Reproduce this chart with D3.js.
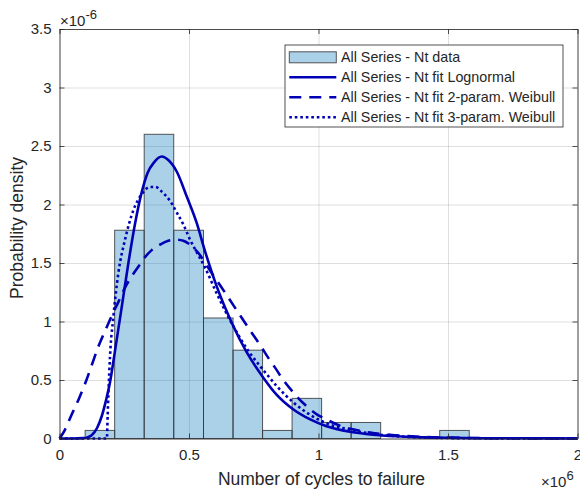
<!doctype html>
<html lang="en">
<head>
  <meta charset="utf-8">
  <title>Nt distribution fits</title>
  <script src="https://cdn.jsdelivr.net/npm/d3@7"></script>
  <style>
    body { margin: 0; background: #fff; }
    svg text { font-family: "Liberation Sans", Arial, Helvetica, sans-serif; fill: #262626; }
    .grid line { stroke: #262626; stroke-opacity: 0.15; }
    .grid path { display: none; }
    .axis path, .axis line { stroke: #262626; stroke-width: 0.8; }
  </style>
</head>
<body>
<svg id="chart"></svg>
<script>
// x values in 1e6 cycles, densities in 1e-6
var histEdges = [0.099, 0.213, 0.327, 0.441, 0.556, 0.670, 0.784, 0.898, 1.012, 1.126, 1.240, 1.354, 1.468, 1.582];
var histDensity = [0.069, 1.78, 2.60, 1.78, 1.03, 0.755, 0.069, 0.343, 0.137, 0.137, 0, 0, 0.069];

var lognormalFit = [[0,0],[0.05,0],[0.09,0.003],[0.11,0.012],[0.125,0.03],[0.145,0.09],[0.163,0.19],[0.18,0.33],
  [0.195,0.48],[0.215,0.76],[0.24,1.12],[0.266,1.50],[0.292,1.84],[0.318,2.11],[0.34,2.27],[0.365,2.36],
  [0.395,2.41],[0.42,2.38],[0.453,2.28],[0.491,2.07],[0.53,1.84],[0.562,1.60],[0.607,1.30],[0.665,0.99],
  [0.722,0.74],[0.787,0.52],[0.838,0.375],[0.902,0.25],[0.966,0.165],[1.031,0.105],[1.121,0.058],
  [1.224,0.03],[1.35,0.014],[1.5,0.006],[1.7,0.002],[2.0,0.0005]];

var weibull2Fit = [[0,0],[0.02,0.07],[0.048,0.21],[0.075,0.34],[0.099,0.47],[0.125,0.63],[0.15,0.785],
  [0.176,0.92],[0.202,1.05],[0.228,1.17],[0.253,1.29],[0.28,1.39],[0.305,1.47],[0.33,1.55],[0.356,1.61],
  [0.39,1.66],[0.42,1.69],[0.45,1.70],[0.478,1.69],[0.517,1.63],[0.545,1.56],[0.568,1.48],[0.595,1.39],
  [0.62,1.31],[0.671,1.14],[0.722,0.97],[0.774,0.80],[0.812,0.67],[0.831,0.61],[0.864,0.50],[0.889,0.43],
  [0.92,0.35],[0.947,0.29],[0.998,0.20],[1.024,0.17],[1.082,0.11],[1.15,0.07],[1.2,0.05],[1.3,0.027],
  [1.4,0.014],[1.6,0.004],[1.8,0.001],[2.0,0.0002]];

var weibull3Fit = [[0,0],[0.183,0],[0.186,0.2],[0.189,0.39],[0.195,0.70],[0.208,1.04],[0.227,1.41],
  [0.253,1.70],[0.285,1.95],[0.318,2.09],[0.35,2.15],[0.37,2.15],[0.395,2.11],[0.433,2.01],[0.453,1.93],
  [0.478,1.83],[0.504,1.70],[0.533,1.58],[0.562,1.46],[0.607,1.24],[0.671,0.96],[0.735,0.73],[0.774,0.62],
  [0.80,0.55],[0.838,0.45],[0.902,0.31],[0.966,0.205],[1.031,0.13],[1.121,0.075],[1.198,0.044],
  [1.288,0.022],[1.4,0.009],[1.5,0.004],[1.7,0.001],[2.0,0.0001]];

var xTicks = [0, 0.5, 1, 1.5, 2];
var xTickLabels = ["0", "0.5", "1", "1.5", "2"];
var yTicks = [0, 0.5, 1, 1.5, 2, 2.5, 3, 3.5];
var yTickLabels = ["0", "0.5", "1", "1.5", "2", "2.5", "3", "3.5"];

var legendLabels = ["All Series - Nt data", "All Series - Nt fit Lognormal",
  "All Series - Nt fit 2-param. Weibull", "All Series - Nt fit 3-param. Weibull"];

var W = 580, H = 494;
var pL = 59.5, pR = 577.5, pT = 29, pB = 438.5;
var blue = "#0000b4";

var svg = d3.select("#chart").attr("width", W).attr("height", H);

var x = d3.scaleLinear().domain([0, 2]).range([pL, pR]);
var y = d3.scaleLinear().domain([0, 3.5]).range([pB, pT]);

// grid
svg.append("g").attr("class", "grid")
  .attr("transform", "translate(0," + pB + ")")
  .call(d3.axisBottom(x).tickValues(xTicks).tickSize(-(pB - pT)).tickFormat(""));
svg.append("g").attr("class", "grid")
  .attr("transform", "translate(" + pL + ",0)")
  .call(d3.axisLeft(y).tickValues(yTicks).tickSize(-(pR - pL)).tickFormat(""));

// histogram
svg.append("g").selectAll("rect")
  .data(histDensity)
  .enter().append("rect")
  .attr("x", function(d, i){ return x(histEdges[i]); })
  .attr("width", function(d, i){ return x(histEdges[i + 1]) - x(histEdges[i]); })
  .attr("y", function(d){ return y(d); })
  .attr("height", function(d){ return y(0) - y(d); })
  .attr("fill", "#0072bd").attr("fill-opacity", 0.33)
  .attr("stroke", "#3a3a3a").attr("stroke-opacity", 0.85).attr("stroke-width", 1);

// fits
var line = d3.line()
  .x(function(d){ return x(d[0]); })
  .y(function(d){ return y(d[1]); })
  .curve(d3.curveMonotoneX);

var fits = [
  { data: lognormalFit, dash: null },
  { data: weibull2Fit, dash: "12,8" },
  { data: weibull3Fit, dash: "2.6,2.9" }
];

fits.forEach(function(f){
  svg.append("path").datum(f.data)
    .attr("d", line)
    .attr("fill", "none")
    .attr("stroke", blue)
    .attr("stroke-width", 2.6)
    .attr("stroke-dasharray", f.dash);
});

// axes
svg.append("g").attr("class", "axis")
  .attr("transform", "translate(0," + pB + ")")
  .call(d3.axisBottom(x).tickValues(xTicks).tickSizeInner(-5).tickSizeOuter(0).tickPadding(11)
    .tickFormat(function(d, i){ return xTickLabels[i]; }));
svg.append("g").attr("class", "axis")
  .attr("transform", "translate(0," + pT + ")")
  .call(d3.axisTop(x).tickValues(xTicks).tickSizeInner(-5).tickSizeOuter(0).tickFormat(""));
svg.append("g").attr("class", "axis")
  .attr("transform", "translate(" + pL + ",0)")
  .call(d3.axisLeft(y).tickValues(yTicks).tickSizeInner(-5).tickSizeOuter(0).tickPadding(8)
    .tickFormat(function(d, i){ return yTickLabels[i]; }));
svg.append("g").attr("class", "axis")
  .attr("transform", "translate(" + pR + ",0)")
  .call(d3.axisRight(y).tickValues(yTicks).tickSizeInner(-5).tickSizeOuter(0).tickFormat(""));

svg.selectAll(".axis text").style("font-size", "15px").attr("fill", "#262626");

// axis labels
svg.append("text")
  .attr("x", (pL + pR) / 2 + 3).attr("y", 485)
  .attr("text-anchor", "middle").style("font-size", "17.5px")
  .text("Number of cycles to failure");

svg.append("text")
  .attr("transform", "translate(23," + 228 + ") rotate(-90)")
  .attr("text-anchor", "middle").style("font-size", "17.5px")
  .text("Probability density");

// exponent labels
var ey = svg.append("text").attr("x", 60).attr("y", 26).style("font-size", "15px");
ey.append("tspan").text("\u00d710");
ey.append("tspan").attr("dy", -7).style("font-size", "13px").text("-6");

var ex = svg.append("text").attr("x", 541).attr("y", 487).style("font-size", "15px");
ex.append("tspan").text("\u00d710");
ex.append("tspan").attr("dy", -7).style("font-size", "13px").text("6");

// legend
var lg = svg.append("g").attr("transform", "translate(285,45)");
lg.append("rect").attr("width", 278).attr("height", 82)
  .attr("fill", "#fff").attr("stroke", "#262626").attr("stroke-width", 0.8);

var rowY = function(i){ return 12.3 + i * 20; };

lg.append("rect").attr("x", 4.3).attr("y", rowY(0) - 5.5).attr("width", 47).attr("height", 11)
  .attr("fill", "#0072bd").attr("fill-opacity", 0.33)
  .attr("stroke", "#3a3a3a").attr("stroke-opacity", 0.85);

fits.forEach(function(f, i){
  lg.append("line")
    .attr("x1", 4.3).attr("x2", 51.3)
    .attr("y1", rowY(i + 1)).attr("y2", rowY(i + 1))
    .attr("stroke", blue).attr("stroke-width", 2.6)
    .attr("stroke-dasharray", f.dash);
});

lg.selectAll("text.lab").data(legendLabels).enter().append("text")
  .attr("class", "lab")
  .attr("x", 56).attr("y", function(d, i){ return rowY(i) + 5; })
  .style("font-size", "14.3px")
  .text(function(d){ return d; });
</script>
</body>
</html>
